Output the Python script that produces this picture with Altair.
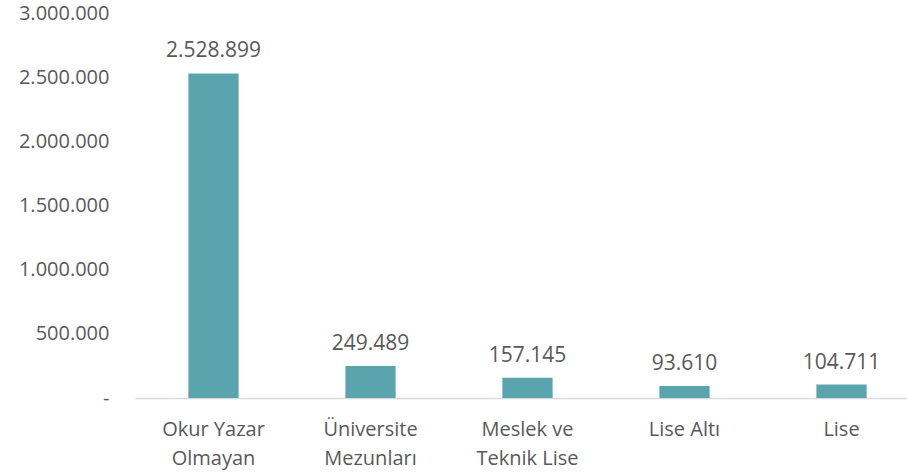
import altair as alt
import pandas as pd
import json

categories = ["Okur Yazar Olmayan", "Üniversite Mezunları", "Meslek ve Teknik Lise", "Lise Altı", "Lise"]
values = [2528899, 249489, 157145, 93610, 104711]
label_lines = [["Okur Yazar", "Olmayan"], ["Üniversite", "Mezunları"], ["Meslek ve", "Teknik Lise"], ["Lise Altı"], ["Lise"]]
y_ticks = [0, 500000, 1000000, 1500000, 2000000, 2500000, 3000000]

df = pd.DataFrame({"kategori": categories, "deger": values})

lines_map = json.dumps(dict(zip(categories, label_lines)), ensure_ascii=False)
x_label_expr = f"{lines_map}[datum.label]"

FONT = "Open Sans"
TXT = "#595959"

base = alt.Chart(df).encode(
    x=alt.X("kategori:N", sort=categories, title=None,
            scale=alt.Scale(range=[0, 785], paddingInner=0.68, paddingOuter=0.34),
            axis=alt.Axis(labelAngle=0, ticks=False, domainColor="#D9D9D9", domainWidth=1.5,
                          labelFont=FONT, labelFontSize=20, labelColor=TXT, labelPadding=21,
                          labelLineHeight=29, labelBaseline="top", labelExpr=x_label_expr)),
    y=alt.Y("deger:Q", title=None,
            scale=alt.Scale(domain=[0, 3000000], nice=False),
            axis=alt.Axis(values=y_ticks, grid=False, domain=False, ticks=False,
                          labelFont=FONT, labelFontSize=20, labelColor=TXT, labelPadding=26,
                          labelExpr="datum.value == 0 ? '-' : datum.label")),
)

bars = base.mark_bar(color="#5AA4AE")
text = base.mark_text(dy=-16, baseline="alphabetic", align="center", font=FONT,
                      fontSize=21, color=TXT).encode(text=alt.Text("deger:Q", format=",d"))

chart = (bars + text).properties(
    width=772, height=385,
    autosize=alt.AutoSizeParams(type="none"),
    padding={"left": 135, "top": 13, "right": 0, "bottom": 75},
).configure(
    locale={"number": {"decimal": ",", "thousands": ".", "grouping": [3], "currency": ["", " TL"]}},
    view={"stroke": None},
)

chart.save("out.html", embed_options={"renderer": "svg", "actions": False})
